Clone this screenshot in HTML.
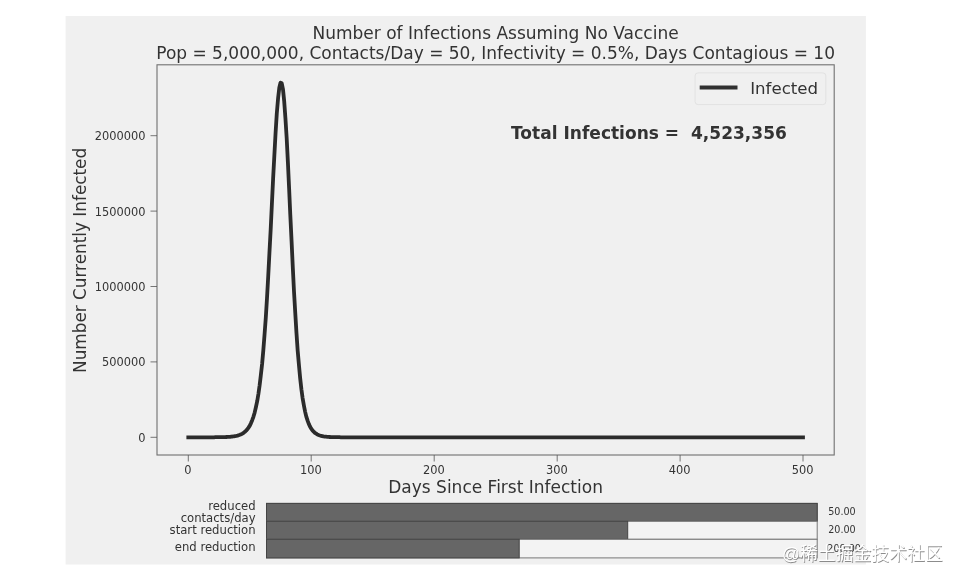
<!DOCTYPE html>
<html><head><meta charset="utf-8"><title>Number of Infections Assuming No Vaccine</title>
<style>
html,body{margin:0;padding:0;background:#fff;}
body{width:962px;height:583px;overflow:hidden;position:relative;}
svg{position:absolute;left:0;top:0;display:block;}
text{font-family:"DejaVu Sans","Liberation Sans",sans-serif;fill:#333;}
.t{font-size:17.0px;}
.lg{font-size:16.6px;}
.tk{font-size:11.4px;}
.sl{font-size:11.65px;}
.sv{font-size:9.6px;}
.b{font-weight:bold;font-size:17.05px;white-space:pre;}
.wm{font-family:"Liberation Sans","Noto Sans CJK SC",sans-serif;font-size:17.85px;fill:#fff;}
</style></head><body>
<svg width="962" height="583" viewBox="0 0 962 583">
<rect x="0" y="0" width="962" height="583" fill="#ffffff"/>
<rect x="65.6" y="16" width="800.3" height="548.5" fill="#f0f0f0"/>
<text class="t" x="495.6" y="38.5" text-anchor="middle">Number of Infections Assuming No Vaccine</text>
<text class="t" x="495.6" y="59" text-anchor="middle">Pop = 5,000,000, Contacts/Day = 50, Infectivity = 0.5%, Days Contagious = 10</text>
<rect x="157.0" y="64.8" width="677.2" height="390.2" fill="#f0f0f0" stroke="#707070" stroke-width="1.1"/>
<line x1="188.3" y1="455.0" x2="188.3" y2="461.5" stroke="#555" stroke-width="0.8"/><text class="tk" x="187.9" y="474.0" text-anchor="middle">0</text>
<line x1="311.2" y1="455.0" x2="311.2" y2="461.5" stroke="#555" stroke-width="0.8"/><text class="tk" x="310.9" y="474.0" text-anchor="middle">100</text>
<line x1="434.2" y1="455.0" x2="434.2" y2="461.5" stroke="#555" stroke-width="0.8"/><text class="tk" x="433.8" y="474.0" text-anchor="middle">200</text>
<line x1="557.2" y1="455.0" x2="557.2" y2="461.5" stroke="#555" stroke-width="0.8"/><text class="tk" x="556.8" y="474.0" text-anchor="middle">300</text>
<line x1="680.1" y1="455.0" x2="680.1" y2="461.5" stroke="#555" stroke-width="0.8"/><text class="tk" x="679.7" y="474.0" text-anchor="middle">400</text>
<line x1="803.0" y1="455.0" x2="803.0" y2="461.5" stroke="#555" stroke-width="0.8"/><text class="tk" x="802.6" y="474.0" text-anchor="middle">500</text>
<line x1="150.5" y1="437.3" x2="157.0" y2="437.3" stroke="#555" stroke-width="0.8"/><text class="tk" x="145.4" y="441.8" text-anchor="end">0</text>
<line x1="150.5" y1="361.9" x2="157.0" y2="361.9" stroke="#555" stroke-width="0.8"/><text class="tk" x="145.4" y="366.4" text-anchor="end">500000</text>
<line x1="150.5" y1="286.5" x2="157.0" y2="286.5" stroke="#555" stroke-width="0.8"/><text class="tk" x="145.4" y="291.0" text-anchor="end">1000000</text>
<line x1="150.5" y1="211.1" x2="157.0" y2="211.1" stroke="#555" stroke-width="0.8"/><text class="tk" x="145.4" y="215.6" text-anchor="end">1500000</text>
<line x1="150.5" y1="135.7" x2="157.0" y2="135.7" stroke="#555" stroke-width="0.8"/><text class="tk" x="145.4" y="140.2" text-anchor="end">2000000</text>
<text class="t" x="495.6" y="492.9" text-anchor="middle">Days Since First Infection</text>
<text class="t" style="font-size:16.85px" transform="translate(85.9,260.4) rotate(-90)" text-anchor="middle">Number Currently Infected</text>
<polyline points="188.3,437.3 189.5,437.3 190.8,437.3 192.0,437.3 193.2,437.3 194.4,437.3 195.7,437.3 196.9,437.3 198.1,437.3 199.4,437.3 200.6,437.3 201.8,437.3 203.1,437.3 204.3,437.3 205.5,437.3 206.7,437.3 208.0,437.3 209.2,437.3 210.4,437.3 211.7,437.3 212.9,437.3 214.1,437.3 215.3,437.2 216.6,437.2 217.8,437.2 219.0,437.2 220.3,437.2 221.5,437.2 222.7,437.1 224.0,437.1 225.2,437.1 226.4,437.0 227.6,436.9 228.9,436.9 230.1,436.8 231.3,436.6 232.6,436.5 233.8,436.3 235.0,436.1 236.3,435.9 237.5,435.6 238.7,435.2 239.9,434.8 241.2,434.2 242.4,433.6 243.6,432.8 244.9,431.8 246.1,430.7 247.3,429.3 248.5,427.6 249.8,425.6 251.0,423.1 252.2,420.2 253.5,416.6 254.7,412.4 255.9,407.3 257.2,401.2 258.4,394.0 259.6,385.6 260.8,375.6 262.1,364.0 263.3,350.5 264.5,335.1 265.8,317.6 267.0,298.1 268.2,276.7 269.4,253.5 270.7,229.1 271.9,203.9 273.1,178.8 274.4,154.6 275.6,132.5 276.8,113.3 278.1,98.1 279.3,87.7 280.5,82.6 281.7,83.2 283.0,89.5 284.2,101.3 285.4,117.9 286.7,138.5 287.9,162.3 289.1,188.1 290.3,214.8 291.6,241.6 292.8,267.3 294.0,291.5 295.3,313.6 296.5,333.4 297.7,350.8 299.0,365.7 300.2,378.5 301.4,389.2 302.6,398.1 303.9,405.5 305.1,411.6 306.3,416.6 307.6,420.6 308.8,423.9 310.0,426.5 311.2,428.6 312.5,430.4 313.7,431.7 314.9,432.9 316.2,433.7 317.4,434.5 318.6,435.0 319.9,435.5 321.1,435.8 322.3,436.1 323.5,436.4 324.8,436.6 326.0,436.7 327.2,436.8 328.5,436.9 329.7,437.0 330.9,437.1 332.2,437.1 333.4,437.1 334.6,437.2 335.8,437.2 337.1,437.2 338.3,437.2 339.5,437.2 340.8,437.3 342.0,437.3 343.2,437.3 344.4,437.3 345.7,437.3 346.9,437.3 348.1,437.3 349.4,437.3 350.6,437.3 351.8,437.3 353.1,437.3 354.3,437.3 355.5,437.3 356.7,437.3 358.0,437.3 359.2,437.3 360.4,437.3 361.7,437.3 362.9,437.3 364.1,437.3 365.3,437.3 366.6,437.3 367.8,437.3 369.0,437.3 370.3,437.3 371.5,437.3 372.7,437.3 374.0,437.3 375.2,437.3 376.4,437.3 377.6,437.3 378.9,437.3 380.1,437.3 381.3,437.3 382.6,437.3 383.8,437.3 385.0,437.3 386.2,437.3 387.5,437.3 388.7,437.3 389.9,437.3 391.2,437.3 392.4,437.3 393.6,437.3 394.9,437.3 396.1,437.3 397.3,437.3 398.5,437.3 399.8,437.3 401.0,437.3 402.2,437.3 403.5,437.3 404.7,437.3 405.9,437.3 407.2,437.3 408.4,437.3 409.6,437.3 410.8,437.3 412.1,437.3 413.3,437.3 414.5,437.3 415.8,437.3 417.0,437.3 418.2,437.3 419.4,437.3 420.7,437.3 421.9,437.3 423.1,437.3 424.4,437.3 425.6,437.3 426.8,437.3 428.1,437.3 429.3,437.3 430.5,437.3 431.7,437.3 433.0,437.3 434.2,437.3 435.4,437.3 436.7,437.3 437.9,437.3 439.1,437.3 440.3,437.3 441.6,437.3 442.8,437.3 444.0,437.3 445.3,437.3 446.5,437.3 447.7,437.3 449.0,437.3 450.2,437.3 451.4,437.3 452.6,437.3 453.9,437.3 455.1,437.3 456.3,437.3 457.6,437.3 458.8,437.3 460.0,437.3 461.2,437.3 462.5,437.3 463.7,437.3 464.9,437.3 466.2,437.3 467.4,437.3 468.6,437.3 469.9,437.3 471.1,437.3 472.3,437.3 473.5,437.3 474.8,437.3 476.0,437.3 477.2,437.3 478.5,437.3 479.7,437.3 480.9,437.3 482.2,437.3 483.4,437.3 484.6,437.3 485.8,437.3 487.1,437.3 488.3,437.3 489.5,437.3 490.8,437.3 492.0,437.3 493.2,437.3 494.4,437.3 495.7,437.3 496.9,437.3 498.1,437.3 499.4,437.3 500.6,437.3 501.8,437.3 503.1,437.3 504.3,437.3 505.5,437.3 506.7,437.3 508.0,437.3 509.2,437.3 510.4,437.3 511.7,437.3 512.9,437.3 514.1,437.3 515.3,437.3 516.6,437.3 517.8,437.3 519.0,437.3 520.3,437.3 521.5,437.3 522.7,437.3 524.0,437.3 525.2,437.3 526.4,437.3 527.6,437.3 528.9,437.3 530.1,437.3 531.3,437.3 532.6,437.3 533.8,437.3 535.0,437.3 536.2,437.3 537.5,437.3 538.7,437.3 539.9,437.3 541.2,437.3 542.4,437.3 543.6,437.3 544.9,437.3 546.1,437.3 547.3,437.3 548.5,437.3 549.8,437.3 551.0,437.3 552.2,437.3 553.5,437.3 554.7,437.3 555.9,437.3 557.2,437.3 558.4,437.3 559.6,437.3 560.8,437.3 562.1,437.3 563.3,437.3 564.5,437.3 565.8,437.3 567.0,437.3 568.2,437.3 569.4,437.3 570.7,437.3 571.9,437.3 573.1,437.3 574.4,437.3 575.6,437.3 576.8,437.3 578.1,437.3 579.3,437.3 580.5,437.3 581.7,437.3 583.0,437.3 584.2,437.3 585.4,437.3 586.7,437.3 587.9,437.3 589.1,437.3 590.3,437.3 591.6,437.3 592.8,437.3 594.0,437.3 595.3,437.3 596.5,437.3 597.7,437.3 599.0,437.3 600.2,437.3 601.4,437.3 602.6,437.3 603.9,437.3 605.1,437.3 606.3,437.3 607.6,437.3 608.8,437.3 610.0,437.3 611.2,437.3 612.5,437.3 613.7,437.3 614.9,437.3 616.2,437.3 617.4,437.3 618.6,437.3 619.9,437.3 621.1,437.3 622.3,437.3 623.5,437.3 624.8,437.3 626.0,437.3 627.2,437.3 628.5,437.3 629.7,437.3 630.9,437.3 632.1,437.3 633.4,437.3 634.6,437.3 635.8,437.3 637.1,437.3 638.3,437.3 639.5,437.3 640.8,437.3 642.0,437.3 643.2,437.3 644.4,437.3 645.7,437.3 646.9,437.3 648.1,437.3 649.4,437.3 650.6,437.3 651.8,437.3 653.1,437.3 654.3,437.3 655.5,437.3 656.7,437.3 658.0,437.3 659.2,437.3 660.4,437.3 661.7,437.3 662.9,437.3 664.1,437.3 665.3,437.3 666.6,437.3 667.8,437.3 669.0,437.3 670.3,437.3 671.5,437.3 672.7,437.3 674.0,437.3 675.2,437.3 676.4,437.3 677.6,437.3 678.9,437.3 680.1,437.3 681.3,437.3 682.6,437.3 683.8,437.3 685.0,437.3 686.2,437.3 687.5,437.3 688.7,437.3 689.9,437.3 691.2,437.3 692.4,437.3 693.6,437.3 694.9,437.3 696.1,437.3 697.3,437.3 698.5,437.3 699.8,437.3 701.0,437.3 702.2,437.3 703.5,437.3 704.7,437.3 705.9,437.3 707.1,437.3 708.4,437.3 709.6,437.3 710.8,437.3 712.1,437.3 713.3,437.3 714.5,437.3 715.8,437.3 717.0,437.3 718.2,437.3 719.4,437.3 720.7,437.3 721.9,437.3 723.1,437.3 724.4,437.3 725.6,437.3 726.8,437.3 728.1,437.3 729.3,437.3 730.5,437.3 731.7,437.3 733.0,437.3 734.2,437.3 735.4,437.3 736.7,437.3 737.9,437.3 739.1,437.3 740.3,437.3 741.6,437.3 742.8,437.3 744.0,437.3 745.3,437.3 746.5,437.3 747.7,437.3 749.0,437.3 750.2,437.3 751.4,437.3 752.6,437.3 753.9,437.3 755.1,437.3 756.3,437.3 757.6,437.3 758.8,437.3 760.0,437.3 761.2,437.3 762.5,437.3 763.7,437.3 764.9,437.3 766.2,437.3 767.4,437.3 768.6,437.3 769.9,437.3 771.1,437.3 772.3,437.3 773.5,437.3 774.8,437.3 776.0,437.3 777.2,437.3 778.5,437.3 779.7,437.3 780.9,437.3 782.1,437.3 783.4,437.3 784.6,437.3 785.8,437.3 787.1,437.3 788.3,437.3 789.5,437.3 790.8,437.3 792.0,437.3 793.2,437.3 794.4,437.3 795.7,437.3 796.9,437.3 798.1,437.3 799.4,437.3 800.6,437.3 801.8,437.3 803.0,437.3" fill="none" stroke="#2b2b2b" stroke-width="3.8" stroke-linejoin="round" stroke-linecap="square"/>
<rect x="695.1" y="72.9" width="130.7" height="31.7" rx="3" ry="3" fill="#f0f0f0" fill-opacity="0.8" stroke="#e2e2e2" stroke-width="1"/>
<line x1="699.7" y1="87.4" x2="737.5" y2="87.4" stroke="#303030" stroke-width="4"/>
<text class="lg" x="750.2" y="93.7">Infected</text>
<text class="b" x="511" y="139.2" xml:space="preserve">Total Infections =  4,523,356</text>
<rect x="266.5" y="503.4" width="550.7" height="17.899999999999977" fill="#f3f3f3" stroke="#777" stroke-width="1"/><rect x="266.5" y="503.4" width="550.7" height="17.899999999999977" fill="#666666" stroke="#444" stroke-width="1"/>
<rect x="266.5" y="521.3" width="550.7" height="18.0" fill="#f3f3f3" stroke="#777" stroke-width="1"/><rect x="266.5" y="521.3" width="361.20000000000005" height="18.0" fill="#666666" stroke="#444" stroke-width="1"/>
<rect x="266.5" y="539.3" width="550.7" height="18.600000000000023" fill="#f3f3f3" stroke="#777" stroke-width="1"/><rect x="266.5" y="539.3" width="252.70000000000005" height="18.600000000000023" fill="#666666" stroke="#444" stroke-width="1"/>
<text class="sl" x="255.6" y="509.7" text-anchor="end">reduced</text>
<text class="sl" x="255.6" y="521.6" text-anchor="end">contacts/day</text>
<text class="sl" x="255.6" y="534.0" text-anchor="end">start reduction</text>
<text class="sl" x="255.6" y="551.4" text-anchor="end">end reduction</text>
<text class="sv" x="828.2" y="515">50.00</text>
<text class="sv" x="828.2" y="532.7">20.00</text>
<text class="sv" x="827.3" y="551.8">200.00</text>
<g class="wm"><text class="wm" x="782.6" y="560.6" style="fill:#808080;fill-opacity:.9">@稀土掘金技术社区</text>
<text class="wm" x="781.9" y="559.9" style="fill:#ffffff">@稀土掘金技术社区</text></g>
</svg>
</body></html>
